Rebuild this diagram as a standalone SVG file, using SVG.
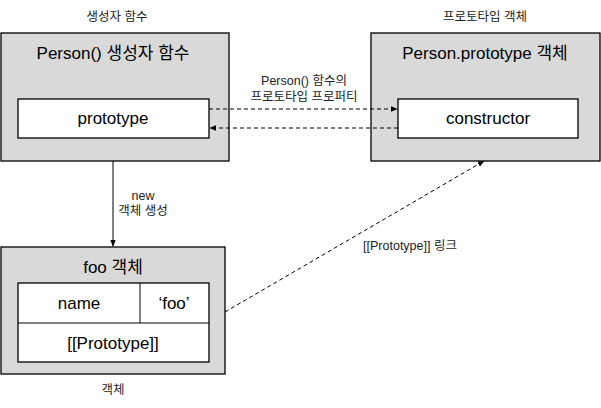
<svg xmlns="http://www.w3.org/2000/svg" width="601" height="408" viewBox="0 0 601 408">
<defs>
<style>
.outer{fill:#d9d9d9;stroke:#000;stroke-width:1.3}
.inner{fill:#fff;stroke:#000;stroke-width:1.3}
.t{font-family:"Liberation Sans","Noto Sans CJK KR",sans-serif;fill:#000;text-anchor:middle}
.big{font-size:17px}
.sm{font-size:12.5px;fill:#222}
.dash{fill:none;stroke:#000;stroke-width:1;stroke-dasharray:4,3}
.solid{fill:none;stroke:#000;stroke-width:1}
</style>
<marker id="ah" viewBox="0 0 10 10" refX="9" refY="5" markerWidth="7" markerHeight="7" orient="auto" markerUnits="userSpaceOnUse">
<path d="M0,1 L10,5 L0,9 z" fill="#000"/>
</marker>
</defs>
<rect width="601" height="408" fill="#fff"/>
<text class="t sm" x="117" y="21">생성자 함수</text>
<text class="t sm" x="485" y="21">프로토타입 객체</text>
<g id="person">
<rect class="outer" x="1" y="33" width="228" height="128"/>
<text class="t big" x="113" y="59">Person() 생성자 함수</text>
<rect class="inner" x="18" y="99" width="191" height="39"/>
<text class="t big" x="113" y="124">prototype</text>
</g>
<g id="personProto">
<rect class="outer" x="371" y="33" width="229" height="128"/>
<text class="t big" x="485" y="59">Person.prototype 객체</text>
<rect class="inner" x="398" y="99" width="180" height="39"/>
<text class="t big" x="488" y="124">constructor</text>
</g>
<g id="foo">
<rect class="outer" x="1" y="247" width="224" height="127"/>
<text class="t big" x="113" y="273">foo 객체</text>
<rect class="inner" x="18" y="283" width="191" height="79"/>
<line class="solid" x1="18" y1="323" x2="209" y2="323"/>
<line class="solid" x1="140" y1="283" x2="140" y2="323"/>
<text class="t big" x="79" y="309">name</text>
<text class="t big" x="174" y="309">‘foo’</text>
<text class="t big" x="113" y="349">[[Prototype]]</text>
</g>
<text class="t sm" x="113" y="394">객체</text>
<g id="connectors">
<line class="dash" x1="209" y1="109" x2="397" y2="109" marker-end="url(#ah)"/>
<line class="dash" x1="398" y1="128" x2="210" y2="128" marker-end="url(#ah)"/>
<line class="solid" x1="113" y1="161" x2="113" y2="246" marker-end="url(#ah)"/>
<line class="dash" x1="225" y1="312" x2="484" y2="161" marker-end="url(#ah)"/>
<text class="t sm" x="304" y="85">Person() 함수의</text>
<text class="t sm" x="304" y="101">프로토타입 프로퍼티</text>
<text class="t sm" x="143" y="200">new</text>
<text class="t sm" x="143" y="215">객체 생성</text>
<text class="t sm" x="410" y="250">[[Prototype]] 링크</text>
</g>
</svg>
